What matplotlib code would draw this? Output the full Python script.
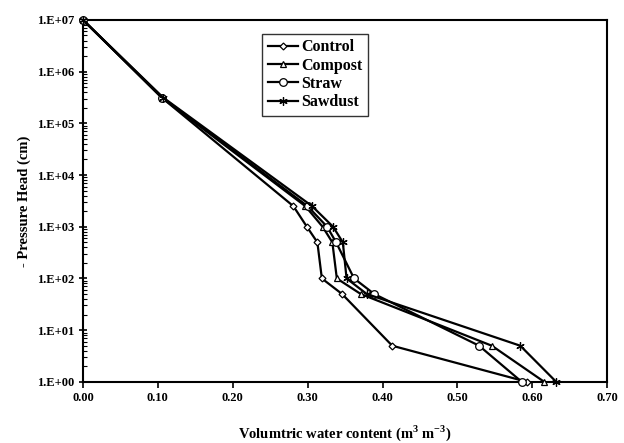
import matplotlib
matplotlib.use("Agg")
import matplotlib.pyplot as plt
import numpy as np
from matplotlib.ticker import FuncFormatter, LogLocator, MultipleLocator

pressure = [1e7, 3.16e5, 2500, 1000, 500, 100, 50, 5, 1]
control = [0.0, 0.105, 0.281, 0.299, 0.313, 0.319, 0.346, 0.413, 0.593]
compost = [0.0, 0.105, 0.297, 0.320, 0.333, 0.339, 0.371, 0.546, 0.616]
straw = [0.0, 0.106, 0.300, 0.326, 0.338, 0.362, 0.389, 0.529, 0.586]
sawdust = [0.0, 0.107, 0.306, 0.334, 0.347, 0.352, 0.379, 0.584, 0.632]
labels = ["Control", "Compost", "Straw", "Sawdust"]

plt.rcParams['font.family'] = ['Liberation Serif', 'DejaVu Serif']
plt.rcParams['font.weight'] = 'bold'
plt.rcParams['mathtext.fontset'] = 'custom'
plt.rcParams['mathtext.bf'] = 'Liberation Serif:bold'
plt.rcParams['mathtext.rm'] = 'Liberation Serif:bold'

fig = plt.figure(figsize=(6.24, 4.43), dpi=100)
ax = fig.add_axes([0.133, 0.138, 0.840, 0.817])

series = [control, compost, straw, sawdust]
markers = ['D', '^', 'o', (6, 2, 0)]
msizes = [3.5, 5, 5.5, 6]
for s, lab, m, ms in zip(series, labels, markers, msizes):
    ax.plot(s, pressure, color='black', lw=1.6, marker=m, ms=ms,
            markerfacecolor='white', markeredgecolor='black', markeredgewidth=0.9,
            label=lab, clip_on=False, zorder=3)

ax.set_yscale('log')
ax.set_ylim(1, 1e7)
ax.set_xlim(0, 0.70)
ax.xaxis.set_major_locator(MultipleLocator(0.1))
ax.xaxis.set_major_formatter(FuncFormatter(lambda v, p: f"{v:.2f}"))
ax.yaxis.set_major_locator(LogLocator(base=10, numticks=10))
ax.yaxis.set_minor_locator(LogLocator(base=10, subs=np.arange(2, 10), numticks=100))
ax.yaxis.set_major_formatter(FuncFormatter(lambda v, p: f"1.E+{int(round(np.log10(v))):02d}"))

ax.tick_params(axis='x', which='major', direction='out', length=4, width=1.2, labelsize=9)
ax.tick_params(axis='y', which='major', direction='inout', length=6, width=1.2, labelsize=9)
ax.tick_params(axis='y', which='minor', direction='in', length=3, width=0.8)
for lbl in ax.get_xticklabels() + ax.get_yticklabels():
    lbl.set_fontweight('bold')
for sp in ax.spines.values():
    sp.set_linewidth(1.5)

ax.set_xlabel("Volumtric water content (m$^{3}$ m$^{-3}$)", fontsize=10.5,
              fontweight='bold', labelpad=14)
ax.set_ylabel("- Pressure Head (cm)", fontsize=10.5, fontweight='bold', labelpad=4)

leg = ax.legend(loc='upper left', bbox_to_anchor=(0.342, 0.962),
                frameon=True, fancybox=False, edgecolor='black',
                handlelength=1.9, borderpad=0.35, labelspacing=0.15, handletextpad=0.2,
                borderaxespad=0.0, prop={'weight': 'bold', 'size': 11.5})
leg.get_frame().set_linewidth(1.0)

fig.savefig("out.png", dpi=100)
